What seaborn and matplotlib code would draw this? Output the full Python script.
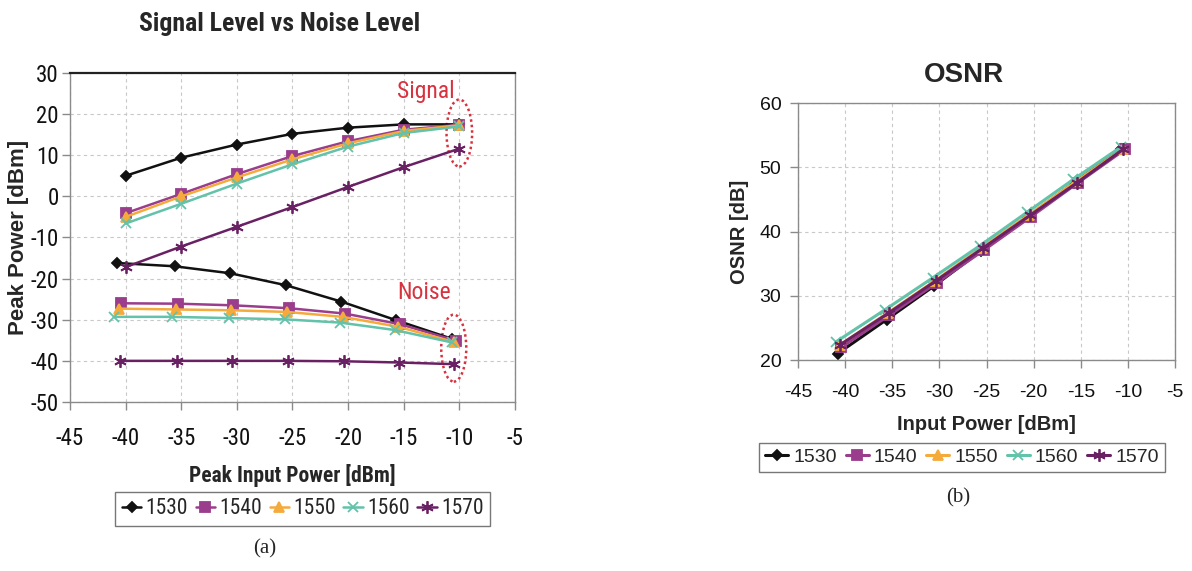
import numpy as np
import pandas as pd
import matplotlib
matplotlib.use("Agg")
import matplotlib.pyplot as plt
from matplotlib import font_manager as fm
from matplotlib.patches import Ellipse
import seaborn as sns

# ---- data -------------------------------------------------------------
wavelengths = ["1530", "1540", "1550", "1560", "1570"]

# input power at which the signal peaks were recorded
signal_x = [-40, -35, -30, -25, -20, -15, -10]

# output peak power of the signal [dBm]
signal_1530 = [5.0, 9.4, 12.6, 15.2, 16.7, 17.5, 17.5]
signal_1540 = [-4.1, 0.6, 5.4, 9.8, 13.4, 16.2, 17.4]
signal_1550 = [-5.0, 0.0, 4.6, 9.0, 12.9, 15.9, 17.3]
signal_1560 = [-6.6, -1.8, 3.1, 7.8, 12.1, 15.4, 17.0]
signal_1570 = [-17.2, -12.2, -7.4, -2.6, 2.3, 7.1, 11.6]

# input power at which the noise floor / OSNR was recorded
noise_x_1530 = [-40.8, -35.6, -30.6, -25.6, -20.6, -15.7, -10.7]
noise_x_1540 = [-40.4, -35.3, -30.3, -25.3, -20.3, -15.3, -10.3]
noise_x_1550 = [-40.6, -35.5, -30.5, -25.5, -20.5, -15.5, -10.5]
noise_x_1560 = [-41.0, -35.8, -30.7, -25.7, -20.7, -15.8, -10.7]
noise_x_1570 = [-40.5, -35.4, -30.4, -25.4, -20.4, -15.4, -10.5]

# noise level [dBm]
noise_1530 = [-16.2, -17.0, -18.7, -21.6, -25.6, -30.1, -34.6]
noise_1540 = [-26.0, -26.1, -26.5, -27.2, -28.5, -31.1, -35.1]
noise_1550 = [-27.3, -27.5, -27.7, -28.1, -29.3, -31.7, -35.4]
noise_1560 = [-29.3, -29.3, -29.6, -29.9, -30.7, -32.5, -35.5]
noise_1570 = [-40.0, -40.0, -40.0, -40.0, -40.1, -40.4, -40.8]

# optical signal-to-noise ratio [dB]
osnr_1530 = [21.0, 26.3, 31.5, 37.0, 42.3, 47.6, 52.8]
osnr_1540 = [22.0, 27.0, 32.0, 37.1, 42.3, 47.6, 52.8]
osnr_1550 = [22.3, 27.3, 32.3, 37.5, 42.6, 47.8, 52.9]
osnr_1560 = [22.8, 27.8, 32.8, 37.8, 43.0, 48.1, 53.2]
osnr_1570 = [22.4, 27.3, 32.3, 37.4, 42.5, 47.6, 52.8]

signals = [signal_1530, signal_1540, signal_1550, signal_1560, signal_1570]
noises = [noise_1530, noise_1540, noise_1550, noise_1560, noise_1570]
noise_xs = [noise_x_1530, noise_x_1540, noise_x_1550, noise_x_1560, noise_x_1570]
osnrs = [osnr_1530, osnr_1540, osnr_1550, osnr_1560, osnr_1570]

# ---- long-form tables -------------------------------------------------
rows_a, rows_b = [], []
for w, s, n, nx, o in zip(wavelengths, signals, noises, noise_xs, osnrs):
    for xv, yv in zip(signal_x, s):
        rows_a.append((w, "signal", xv, yv))
    for xv, yv in zip(nx, n):
        rows_a.append((w, "noise", xv, yv))
    for xv, yv in zip(nx, o):
        rows_b.append((w, xv, yv))
df_a = pd.DataFrame(rows_a, columns=["wavelength", "kind", "x", "y"])
df_b = pd.DataFrame(rows_b, columns=["wavelength", "x", "y"])

# ---- styling ----------------------------------------------------------
sns.set_theme(style="white")
plt.rcParams["font.family"] = ["Liberation Sans", "DejaVu Sans"]
plt.rcParams["axes.unicode_minus"] = False

REGULAR = ["Liberation Sans", "DejaVu Sans"]
installed = {f.name for f in fm.fontManager.ttflist}
narrow_name = next((n for n in ["Liberation Sans Narrow", "Arial Narrow",
                                "Roboto Condensed"] if n in installed), None)
if narrow_name:
    NARROW, nscale = [narrow_name, "DejaVu Sans"], 1.0
else:
    NARROW, nscale = REGULAR, 0.86
SERIF = ["Liberation Serif", "DejaVu Serif"]

colors = {"1530": "#111111", "1540": "#9a3d8c", "1550": "#f5aa3c",
          "1560": "#62c2aa", "1570": "#6a2164"}
markers = {"1530": "D", "1540": "s", "1550": "^", "1560": "x", "1570": (6, 2, 0)}
msizes = {"1530": 5, "1540": 7, "1550": 7, "1560": 7, "1570": 9}

fig = plt.figure(figsize=(11.92, 5.71), dpi=100)
fig.patch.set_facecolor("white")
ax_a = fig.add_axes([0.0587, 0.296, 0.3733, 0.5762])
ax_b = fig.add_axes([0.6695, 0.3695, 0.3163, 0.4501])


def draw_series(ax, data, units, lw):
    for w in wavelengths:
        sub = data[data["wavelength"] == w]
        kw = dict(units=units, estimator=None) if units else {}
        sns.lineplot(data=sub, x="x", y="y", ax=ax, color=colors[w],
                     marker=markers[w], markersize=msizes[w],
                     markeredgecolor=colors[w], markeredgewidth=1.3,
                     linewidth=lw, label=w, legend=False, **kw)


def style_axes(ax, ylim, yticks, tick_font, tick_size, pads):
    ax.set_xlim(-45, -5)
    ax.set_ylim(*ylim)
    ax.set_xticks(np.arange(-45, -4, 5))
    ax.set_yticks(yticks)
    ax.grid(True, color="#c8c8c8", linestyle=(0, (3, 3)), linewidth=0.8)
    ax.set_axisbelow(True)
    for side in ["left", "bottom", "right", "top"]:
        ax.spines[side].set_color("#8a8a8a")
        ax.spines[side].set_linewidth(1.0)
    ax.tick_params(axis="both", which="major", direction="out", length=6,
                   width=1.0, color="#8a8a8a", labelsize=tick_size,
                   left=True, bottom=True)
    ax.tick_params(axis="x", pad=pads[0])
    ax.tick_params(axis="y", pad=pads[1])
    for t in ax.get_xticklabels() + ax.get_yticklabels():
        t.set_fontfamily(tick_font)
        t.set_color("#111111")


# ---- (a) signal and noise levels -----------------------------------------
draw_series(ax_a, df_a, "kind", 1.8)
style_axes(ax_a, (-50, 30), np.arange(-50, 31, 10), NARROW, 15 * nscale + 1.5, (12, 2))
ax_a.spines["top"].set_color("#222222")
ax_a.spines["top"].set_linewidth(1.6)
ax_a.set_title("Signal Level vs Noise Level", fontsize=17.5 * nscale + 1,
               fontweight="bold", family=NARROW, x=0.472, pad=30)
ax_a.set_xlabel("Peak Input Power [dBm]", fontsize=15 * nscale + 0.5,
                fontweight="bold", family=NARROW)
ax_a.xaxis.set_label_coords(0.5, -0.19)
ax_a.set_ylabel("Peak Power [dBm]", fontsize=16, fontweight="bold",
                family=REGULAR)
ax_a.yaxis.set_label_coords(-0.092, 0.5)

red = "#d8323f"
ax_a.add_patch(Ellipse((-10.0, 15.4), 2.3, 16.3, fill=False, edgecolor=red,
                       linestyle=(0, (1, 1.2)), linewidth=1.8))
ax_a.add_patch(Ellipse((-10.5, -36.9), 2.25, 16.3, fill=False, edgecolor=red,
                       linestyle=(0, (1, 1.2)), linewidth=1.8))
ax_a.text(-13.0, 25.6, "Signal", color=red, fontsize=16 * nscale + 1,
          family=NARROW, ha="center", va="center")
ax_a.text(-13.2, -23.3, "Noise", color=red, fontsize=16 * nscale + 1,
          family=NARROW, ha="center", va="center")

h, l = ax_a.get_legend_handles_labels()
uniq = dict(zip(l, h))
leg_a = fig.legend([uniq[w] for w in wavelengths], wavelengths, loc="center",
                   bbox_to_anchor=(0.254, 0.109), ncol=5, frameon=True,
                   fancybox=False, edgecolor="#555555", handlelength=0.9,
                   handletextpad=0.2, columnspacing=0.35, borderpad=0.3,
                   prop={"family": NARROW, "size": 15 * nscale + 0.5})
leg_a.get_frame().set_linewidth(1.0)

# ---- (b) OSNR -----------------------------------------------------------
draw_series(ax_b, df_b, None, 2.2)
style_axes(ax_b, (20, 60), np.arange(20, 61, 10), REGULAR, 14, (11, 6))
ax_b.set_title("OSNR", fontsize=20, fontweight="bold", family=REGULAR,
               x=0.44, pad=15)
ax_b.set_xlabel("Input Power [dBm]", fontsize=14.5, fontweight="bold",
                family=REGULAR)
ax_b.xaxis.set_label_coords(0.5, -0.215)
ax_b.set_ylabel("OSNR [dB]", fontsize=14.5, fontweight="bold",
                family=REGULAR)
ax_b.yaxis.set_label_coords(-0.13, 0.5)

h, l = ax_b.get_legend_handles_labels()
uniq = dict(zip(l, h))
leg_b = fig.legend([uniq[w] for w in wavelengths], wavelengths, loc="center",
                   bbox_to_anchor=(0.807, 0.199), ncol=5, frameon=True,
                   fancybox=False, edgecolor="#555555", handlelength=1.2,
                   handletextpad=0.25, columnspacing=0.45, borderpad=0.3,
                   prop={"family": REGULAR, "size": 14})
leg_b.get_frame().set_linewidth(1.0)

# ---- panel captions ---------------------------------------------------
fig.text(0.222, 0.039, "(a)", fontsize=15, family=SERIF, ha="center", va="center")
fig.text(0.804, 0.128, "(b)", fontsize=15, family=SERIF, ha="center", va="center")

fig.savefig("out.png", dpi=100, facecolor="white")
